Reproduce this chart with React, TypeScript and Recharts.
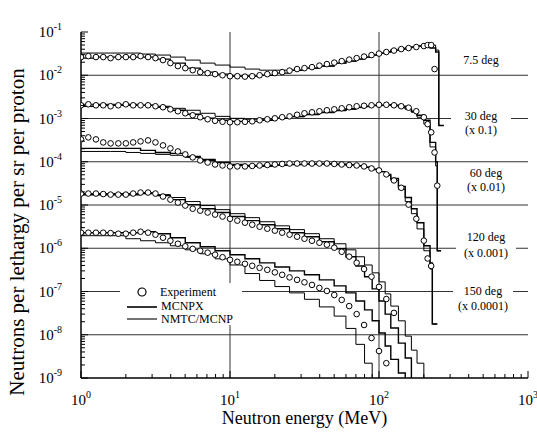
import React from "react";
import { CartesianGrid, ComposedChart, Line, Scatter, XAxis, YAxis } from "recharts";

const FONT = '"Liberation Serif", "Times New Roman", serif';

// energies (MeV) of the measured points, shared by the five angles
const expEnergy = [
  1.0, 1.12, 1.26, 1.41, 1.58, 1.78, 2.0, 2.24, 2.51, 2.82, 3.16, 3.55, 3.98, 4.47, 5.01, 5.62, 6.31,
  7.08, 7.94, 8.91, 10.0, 11.2, 12.6, 14.1, 15.8, 17.8, 20.0, 22.4, 25.1, 28.2, 31.6, 35.5, 39.8, 44.7,
  50.1, 56.2, 63.1, 70.8, 79.4, 89.1, 100, 112, 126, 141, 158, 178, 200, 212, 224, 236, 246,
];

// measured spectra (already scaled), null = no point
const exp7 = [
  2.63e-2, 2.77e-2, 2.63e-2, 2.63e-2, 2.49e-2, 2.63e-2, 2.63e-2, 2.63e-2, 2.77e-2, 2.63e-2,
  2.49e-2, 2.24e-2, 1.91e-2, 1.63e-2, 1.46e-2, 1.31e-2, 1.18e-2, 1.12e-2, 1.06e-2, 1.0e-2,
  9.5e-3, 9.5e-3, 9.3e-3, 9.5e-3, 1.0e-2, 1.06e-2, 1.12e-2, 1.18e-2, 1.28e-2, 1.39e-2,
  1.46e-2, 1.54e-2, 1.67e-2, 1.81e-2, 1.96e-2, 2.12e-2, 2.3e-2, 2.49e-2, 2.7e-2, 2.93e-2,
  3.17e-2, 3.44e-2, 3.72e-2, 4.03e-2, 4.25e-2, 4.49e-2, 4.73e-2, 4.99e-2, 4.99e-2, 1.39e-2, null,
];
const exp30 = [
  2.02e-3, 2.13e-3, 2.02e-3, 2.02e-3, 1.92e-3, 2.02e-3, 2.13e-3, 2.02e-3, 2.02e-3, 2.02e-3,
  1.92e-3, 1.82e-3, 1.63e-3, 1.47e-3, 1.32e-3, 1.19e-3, 1.07e-3, 9.6e-4, 8.85e-4, 8.4e-4,
  8.2e-4, 8.2e-4, 8.4e-4, 8.6e-4, 9.1e-4, 9.6e-4, 1.01e-3, 1.07e-3, 1.12e-3, 1.22e-3,
  1.32e-3, 1.39e-3, 1.47e-3, 1.55e-3, 1.63e-3, 1.72e-3, 1.82e-3, 1.92e-3, 1.97e-3, 2.02e-3,
  2.08e-3, 2.08e-3, 2.02e-3, 1.92e-3, 1.78e-3, 1.47e-3, 1.07e-3, 7.4e-4, 4.8e-4, 1.64e-4, 2.8e-5,
];
const exp60 = [
  3.29e-4, 3.66e-4, 3.29e-4, 2.8e-4, 2.66e-4, 2.66e-4, 2.66e-4, 2.8e-4, 2.96e-4, 3.12e-4,
  2.8e-4, 2.39e-4, 2.04e-4, 1.73e-4, 1.48e-4, 1.26e-4, 1.07e-4, 9.6e-5, 8.65e-5, 8.2e-5,
  7.8e-5, 7.8e-5, 7.8e-5, 8.0e-5, 8.2e-5, 8.4e-5, 8.65e-5, 8.9e-5, 9.1e-5, 9.1e-5,
  9.1e-5, 9.1e-5, 9.1e-5, 9.1e-5, 8.9e-5, 8.65e-5, 8.4e-5, 8.2e-5, 7.8e-5, 7.0e-5,
  6.3e-5, 5.1e-5, 3.7e-5, 2.5e-5, 1.02e-5, 4.8e-6, 1.5e-6, 5.8e-7, 3.9e-7, null, null,
];
const exp120 = [
  1.84e-5, 1.84e-5, 1.84e-5, 1.79e-5, 1.74e-5, 1.74e-5, 1.74e-5, 1.84e-5, 1.94e-5, 1.94e-5,
  1.84e-5, 1.57e-5, 1.33e-5, 1.14e-5, 9.7e-6, 8.2e-6, 7.4e-6, 6.7e-6, 6.0e-6, 5.4e-6,
  4.8e-6, 4.35e-6, 3.9e-6, 3.5e-6, 3.15e-6, 2.83e-6, 2.55e-6, 2.29e-6, 2.06e-6, 1.85e-6,
  1.66e-6, 1.49e-6, 1.34e-6, 1.21e-6, 1.03e-6, 8.3e-7, 6.4e-7, 4.6e-7, 3.3e-7, 2.2e-7,
  1.28e-7, 6.7e-8, 3.2e-8, null, null, null, null, null, null, null, null,
];
const exp150 = [
  2.29e-6, 2.29e-6, 2.29e-6, 2.29e-6, 2.24e-6, 2.17e-6, 2.17e-6, 2.29e-6, 2.41e-6, 2.29e-6,
  2.06e-6, 1.75e-6, 1.49e-6, 1.27e-6, 1.11e-6, 9.7e-7, 8.75e-7, 7.9e-7, 7.1e-7, 6.2e-7,
  5.4e-7, 4.86e-7, 4.37e-7, 3.93e-7, 3.53e-7, 3.17e-7, 2.77e-7, 2.43e-7, 2.12e-7, 1.86e-7,
  1.63e-7, 1.42e-7, 1.21e-7, 1.03e-7, 8.3e-8, 6.4e-8, 4.6e-8, 3.0e-8, 1.68e-8, 8.4e-9,
  4.2e-9, 2.2e-9, null, null, null, null, null, null, null, null, null,
];

// lower bin edges (MeV) of the calculated histograms
const binEdges = [
  1, 1.26, 1.58, 2, 2.51, 3.16, 3.98, 5.01, 6.31, 7.94, 10, 12.6, 15.8, 20, 25.1, 31.6,
  39.8, 50, 60, 70, 80, 90, 100, 110, 120, 135, 150, 165, 180, 200, 220, 240,
];

// MCNPX histograms (value per bin) + closing edge / drop at the end
const mcnpx7 = [
  2.49e-2, 2.63e-2, 2.63e-2, 2.63e-2, 2.63e-2, 2.36e-2, 1.91e-2, 1.46e-2, 1.18e-2, 1.06e-2,
  9.5e-3, 9.5e-3, 1.0e-2, 1.12e-2, 1.31e-2, 1.46e-2, 1.63e-2, 1.91e-2, 2.12e-2, 2.36e-2,
  2.63e-2, 2.93e-2, 3.26e-2, 3.44e-2, 3.82e-2, 4.03e-2, 4.25e-2, 4.49e-2, 4.73e-2, 5.27e-2,
  4.25e-2, 3.44e-2,
];
const mcnpx7End = [[252, 3.44e-2], [252, 6.9e-4], [272, 6.9e-4]];
const mcnpx30 = [
  1.92e-3, 2.02e-3, 2.02e-3, 2.02e-3, 2.02e-3, 1.82e-3, 1.55e-3, 1.25e-3, 1.01e-3, 9.1e-4,
  8.6e-4, 8.6e-4, 9.1e-4, 1.01e-3, 1.12e-3, 1.25e-3, 1.39e-3, 1.55e-3, 1.68e-3, 1.82e-3,
  1.92e-3, 2.02e-3, 2.02e-3, 2.08e-3, 2.02e-3, 1.92e-3, 1.72e-3, 1.47e-3, 1.19e-3, 9.1e-4,
  2.8e-4, 1.0e-4,
];
const mcnpx30End = [[246, 1.0e-4], [246, 8.75e-7], [261, 8.75e-7]];
const mcnpx60 = [
  2.04e-4, 2.04e-4, 2.04e-4, 2.04e-4, 1.83e-4, 1.64e-4, 1.56e-4, 1.33e-4, 1.13e-4, 9.6e-5,
  8.65e-5, 8.2e-5, 8.2e-5, 8.4e-5, 8.65e-5, 8.9e-5, 8.9e-5, 8.65e-5, 8.4e-5, 8.0e-5,
  7.4e-5, 6.6e-5, 5.9e-5, 5.1e-5, 4.1e-5, 2.67e-5, 1.49e-5, 8.2e-6, 3.9e-6, 1.14e-6, 4.6e-7,
];
const mcnpx60End = [[228, 4.6e-7], [228, 1.77e-8], [246, 1.77e-8]];
const mcnpx120 = [
  1.73e-5, 1.73e-5, 1.73e-5, 1.73e-5, 1.84e-5, 1.65e-5, 1.33e-5, 1.02e-5, 8.2e-6, 6.7e-6,
  5.4e-6, 4.35e-6, 3.5e-6, 2.83e-6, 2.29e-6, 1.85e-6, 1.41e-6, 9.7e-7, 6.35e-7, 3.9e-7,
  2.2e-7, 1.15e-7, 6.05e-8, 3.0e-8, 1.43e-8, 6.4e-9, 2.9e-9, 5e-10,
];
const mcnpx150 = [
  2.29e-6, 2.29e-6, 2.29e-6, 2.29e-6, 2.41e-6, 2.17e-6, 1.75e-6, 1.34e-6, 1.08e-6, 8.75e-7,
  7.1e-7, 5.7e-7, 4.6e-7, 3.7e-7, 3.0e-7, 2.43e-7, 1.86e-7, 1.35e-7, 9.3e-8, 6.05e-8,
  3.75e-8, 2.1e-8, 1.1e-8, 5.5e-9, 2.7e-9, 1.3e-9, 5e-10,
];

// NMTC/MCNP histograms
const nmtc7 = [
  3.26e-2, 3.26e-2, 3.26e-2, 3.26e-2, 3.09e-2, 2.93e-2, 2.63e-2, 2.24e-2, 1.91e-2, 1.72e-2,
  1.54e-2, 1.39e-2, 1.31e-2, 1.31e-2, 1.31e-2, 1.46e-2, 1.63e-2, 1.91e-2, 2.12e-2, 2.36e-2,
  2.63e-2, 2.93e-2, 3.17e-2, 3.44e-2, 3.72e-2, 4.03e-2, 4.25e-2, 4.49e-2, 4.73e-2, 4.87e-2,
  4.99e-2, 3.82e-2,
];
const nmtc7End = [[252, 3.82e-2], [252, 6.9e-4], [272, 6.9e-4]];
const nmtc30 = [
  2.13e-3, 2.13e-3, 2.13e-3, 2.13e-3, 2.02e-3, 1.92e-3, 1.72e-3, 1.55e-3, 1.32e-3, 1.12e-3,
  1.01e-3, 9.6e-4, 9.6e-4, 1.01e-3, 1.09e-3, 1.22e-3, 1.36e-3, 1.51e-3, 1.63e-3, 1.78e-3,
  1.87e-3, 1.97e-3, 2.02e-3, 2.02e-3, 1.97e-3, 1.82e-3, 1.63e-3, 1.39e-3, 1.07e-3, 7.4e-4,
  2.2e-4, 8.0e-5,
];
const nmtc30End = [[246, 8.0e-5], [246, 8.75e-7], [261, 8.75e-7]];
const nmtc60 = [
  1.73e-4, 1.73e-4, 1.73e-4, 1.64e-4, 1.56e-4, 1.48e-4, 1.41e-4, 1.26e-4, 1.07e-4, 9.6e-5,
  8.2e-5, 7.8e-5, 7.8e-5, 8.2e-5, 8.65e-5, 8.9e-5, 9.1e-5, 8.9e-5, 8.65e-5, 8.2e-5,
  7.6e-5, 6.8e-5, 5.9e-5, 4.8e-5, 3.7e-5, 2.3e-5, 1.2e-5, 6.3e-6, 2.8e-6, 8.75e-7, 3.3e-7,
];
const nmtc60End = [[228, 3.3e-7], [228, 1.77e-8], [246, 1.77e-8]];
const nmtc120 = [
  1.84e-5, 1.84e-5, 1.84e-5, 1.84e-5, 1.94e-5, 1.74e-5, 1.49e-5, 1.2e-5, 9.7e-6, 7.8e-6,
  6.3e-6, 5.1e-6, 4.1e-6, 3.3e-6, 2.7e-6, 2.17e-6, 1.66e-6, 1.27e-6, 9.2e-7, 6.35e-7,
  4.1e-7, 2.7e-7, 1.67e-7, 8.8e-8, 4.6e-8, 2.1e-8, 9.3e-9, 4.4e-9, 2.2e-9, 5e-10,
];
const nmtc150 = [
  1.95e-6, 1.95e-6, 1.95e-6, 1.66e-6, 1.49e-6, 1.34e-6, 1.14e-6, 9.2e-7, 7.45e-7, 5.7e-7,
  4.1e-7, 2.6e-7, 1.8e-7, 1.3e-7, 9.3e-8, 6.6e-8, 4.4e-8, 2.7e-8, 1.4e-8, 6.0e-9,
  2.2e-9, 5e-10,
];

// axes
const xMajor = [1, 10, 100, 1000];
const xExponents = ["0", "1", "2", "3"];
const yMajor = [1e-9, 1e-8, 1e-7, 1e-6, 1e-5, 1e-4, 1e-3, 1e-2, 1e-1];
const yExponents = ["-9", "-8", "-7", "-6", "-5", "-4", "-3", "-2", "-1"];
const minorFactors = [2, 3, 4, 5, 6, 7, 8, 9];
const gridX = [10, 100];
const gridY = [1e-8, 1e-7, 1e-6, 1e-5, 1e-4, 1e-3, 1e-2];

const withMinors = (majors: number[]) =>
  majors.flatMap((d, i) => (i < majors.length - 1 ? [d, ...minorFactors.map((m) => m * d)] : [d]));
const xTicks = withMinors(xMajor);
const yTicks = withMinors(yMajor);

const legendItems = ["Experiment", "MCNPX", "NMTC/MCNP"];

const angleLabels = [
  { lines: ["7.5 deg"], cx: 481, top: 53, lh: 14 },
  { lines: ["30 deg", "(x 0.1)"], cx: 481, top: 109, lh: 14 },
  { lines: ["60 deg", "(x 0.01)"], cx: 486, top: 166, lh: 14 },
  { lines: ["120 deg", "(x 0.001)"], cx: 486, top: 229, lh: 16 },
  { lines: ["150 deg", "(x 0.0001)"], cx: 483, top: 284, lh: 15 },
];

const angles = [
  { exp: exp7, mc: mcnpx7, mcEnd: mcnpx7End, nm: nmtc7, nmEnd: nmtc7End },
  { exp: exp30, mc: mcnpx30, mcEnd: mcnpx30End, nm: nmtc30, nmEnd: nmtc30End },
  { exp: exp60, mc: mcnpx60, mcEnd: mcnpx60End, nm: nmtc60, nmEnd: nmtc60End },
  { exp: exp120, mc: mcnpx120, mcEnd: [], nm: nmtc120, nmEnd: [] },
  { exp: exp150, mc: mcnpx150, mcEnd: [], nm: nmtc150, nmEnd: [] },
];

const expPoints = (vals: (number | null)[]) =>
  vals.flatMap((v, i) => (v == null ? [] : [{ e: expEnergy[i], v }]));
const histPoints = (vals: number[], end: number[][]) => [
  ...vals.map((v, i) => ({ e: binEdges[i], v })),
  ...end.map(([e, v]) => ({ e, v })),
];

const majorIndex = (list: number[], v: number) => list.findIndex((m) => Math.abs(v / m - 1) < 1e-6);

const LeftTick = ({ x, y, payload }: any) => {
  const i = majorIndex(yMajor, payload.value);
  return (
    <g>
      <line x1={x} x2={x + (i >= 0 ? 7 : 4)} y1={y} y2={y} stroke="#000" />
      {i >= 0 && (
        <text x={62} y={y + 5} textAnchor="end" fontFamily={FONT} fontSize={15} fill="#000">
          10
          <tspan dy={-7} fontSize={10}>
            {yExponents[i]}
          </tspan>
        </text>
      )}
    </g>
  );
};

const RightTick = ({ x, y, payload }: any) => {
  const i = majorIndex(yMajor, payload.value);
  return <line x1={x} x2={x - (i >= 0 ? 7 : 4)} y1={y} y2={y} stroke="#000" />;
};

const BottomTick = ({ x, y, payload }: any) => {
  const i = majorIndex(xMajor, payload.value);
  return (
    <g>
      <line x1={x} x2={x} y1={y} y2={y - (i >= 0 ? 7 : 4)} stroke="#000" />
      {i >= 0 && (
        <text x={x} y={y + 27} textAnchor="middle" fontFamily={FONT} fontSize={15} fill="#000">
          10
          <tspan dy={-7} fontSize={10}>
            {xExponents[i]}
          </tspan>
        </text>
      )}
    </g>
  );
};

const TopTick = ({ x, y, payload }: any) => {
  const i = majorIndex(xMajor, payload.value);
  return <line x1={x} x2={x} y1={y} y2={y + (i >= 0 ? 7 : 4)} stroke="#000" />;
};

const Ring = ({ cx, cy }: any) => (
  <circle cx={cx} cy={cy} r={2.8} fill="#fff" stroke="#000" strokeWidth={1} />
);

const frame = { stroke: "#000", strokeWidth: 1.5 };

export default function App() {
  return (
    <div
      style={{
        position: "absolute",
        left: 0,
        top: 0,
        width: 537,
        height: 432,
        background: "#fff",
        overflow: "hidden",
        fontFamily: FONT,
      }}
    >
      <ComposedChart width={537} height={432} margin={{ top: 32, right: 9, bottom: 0, left: 0 }}>
        <CartesianGrid
          xAxisId="x"
          yAxisId="y"
          horizontalValues={gridY}
          verticalValues={gridX}
          stroke="#333"
          strokeWidth={1}
        />
        <XAxis
          xAxisId="x"
          dataKey="e"
          type="number"
          scale="log"
          domain={[1, 1000]}
          allowDataOverflow
          ticks={xTicks}
          interval={0}
          tick={BottomTick}
          tickLine={false}
          tickSize={0}
          tickMargin={0}
          height={54}
          axisLine={frame}
          label={{
            content: ({ viewBox }: any) => (
              <text
                x={viewBox.x + viewBox.width / 2}
                y={viewBox.y + 46}
                textAnchor="middle"
                fontFamily={FONT}
                fontSize={18}
                fill="#000"
              >
                Neutron energy (MeV)
              </text>
            ),
          }}
        />
        <XAxis
          xAxisId="top"
          orientation="top"
          type="number"
          scale="log"
          domain={[1, 1000]}
          allowDataOverflow
          ticks={xTicks}
          interval={0}
          tick={TopTick}
          tickLine={false}
          tickSize={0}
          tickMargin={0}
          height={0}
          axisLine={frame}
          label={{
            content: ({ viewBox }: any) => (
              <text
                x={viewBox.x + viewBox.width / 2 - 2}
                y={viewBox.y - 6}
                textAnchor="middle"
                fontFamily={FONT}
                fontSize={18}
                fill="#000"
              >
                256 MeV protons, iron target
              </text>
            ),
          }}
        />
        <YAxis
          yAxisId="y"
          dataKey="v"
          type="number"
          scale="log"
          domain={[1e-9, 1e-1]}
          allowDataOverflow
          ticks={yTicks}
          interval={0}
          tick={LeftTick}
          tickLine={false}
          tickSize={0}
          tickMargin={0}
          width={81}
          axisLine={frame}
          label={{
            content: ({ viewBox }: any) => {
              const cy = viewBox.y + viewBox.height / 2 + 27;
              return (
                <text
                  x={24}
                  y={cy}
                  transform={`rotate(-90, 24, ${cy})`}
                  textAnchor="middle"
                  fontFamily={FONT}
                  fontSize={21}
                  fill="#000"
                >
                  Neutrons per lethargy per sr per proton
                </text>
              );
            },
          }}
        />
        <YAxis
          yAxisId="right"
          orientation="right"
          type="number"
          scale="log"
          domain={[1e-9, 1e-1]}
          allowDataOverflow
          ticks={yTicks}
          interval={0}
          tick={RightTick}
          tickLine={false}
          tickSize={0}
          tickMargin={0}
          width={0}
          axisLine={frame}
        />
        {angles.map((a, k) => (
          <Line
            key={`nm${k}`}
            xAxisId="x"
            yAxisId="y"
            data={histPoints(a.nm, a.nmEnd)}
            dataKey="v"
            type="stepAfter"
            stroke="#000"
            strokeWidth={1}
            dot={false}
            isAnimationActive={false}
          />
        ))}
        {angles.map((a, k) => (
          <Line
            key={`mc${k}`}
            xAxisId="x"
            yAxisId="y"
            data={histPoints(a.mc, a.mcEnd)}
            dataKey="v"
            type="stepAfter"
            stroke="#000"
            strokeWidth={1.4}
            dot={false}
            isAnimationActive={false}
          />
        ))}
        {angles.map((a, k) => (
          <Scatter
            key={`exp${k}`}
            xAxisId="x"
            yAxisId="y"
            data={expPoints(a.exp)}
            dataKey="v"
            shape={Ring}
            isAnimationActive={false}
          />
        ))}
      </ComposedChart>

      {angleLabels.map((l) => (
        <div
          key={l.lines[0]}
          style={{
            position: "absolute",
            left: l.cx - 30,
            top: l.top,
            width: 60,
            background: "#fff",
            textAlign: "center",
            fontFamily: FONT,
            fontSize: 12,
            lineHeight: `${l.lh}px`,
            color: "#000",
            whiteSpace: "nowrap",
          }}
        >
          {l.lines.map((t) => (
            <div key={t}>{t}</div>
          ))}
        </div>
      ))}

      <div style={{ position: "absolute", left: 120, top: 283, width: 122, height: 42, background: "#fff" }}>
        <svg width={122} height={42}>
          <circle cx={22} cy={9} r={4} fill="#fff" stroke="#000" strokeWidth={1.2} />
          <line x1={7} x2={37} y1={24} y2={24} stroke="#000" strokeWidth={1.6} />
          <line x1={7} x2={37} y1={36} y2={36} stroke="#000" strokeWidth={1.1} />
          {legendItems.map((t, i) => (
            <text
              key={t}
              x={i === 0 ? 40 : 41}
              y={13 + i * 13.5}
              style={{ fontFamily: FONT }}
              fontSize={12}
              fill="#000"
            >
              {t}
            </text>
          ))}
        </svg>
      </div>
    </div>
  );
}
